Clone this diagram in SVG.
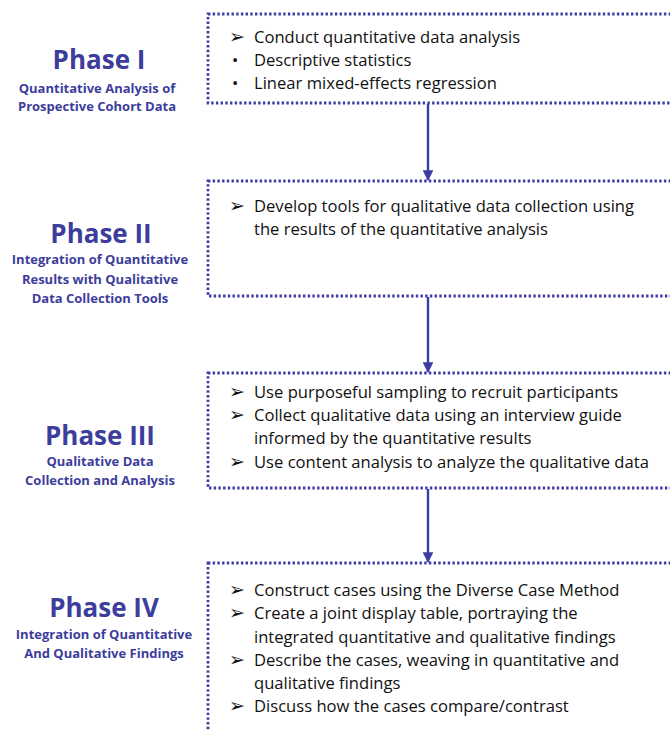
<svg xmlns="http://www.w3.org/2000/svg" width="670" height="731" viewBox="0 0 670 731">
<style>
.box{fill:none;stroke:#3c3ca6;stroke-width:2.8;stroke-dasharray:2.4 2.3}
.t{font-family:"Open Sans","Liberation Sans",sans-serif;font-size:16.6px;fill:#111}
.b{font-family:"DejaVu Sans",sans-serif;font-size:19px;fill:#111}
.ph{font-family:"Open Sans","Liberation Sans",sans-serif;font-weight:bold;font-size:26px;fill:#3d3d9c;text-anchor:middle}
.sub{font-family:"Open Sans","Liberation Sans",sans-serif;font-weight:bold;font-size:13px;fill:#3d3d9c;text-anchor:middle}
.conn{stroke:#3c3ca6;stroke-width:2.4;fill:none}
</style>
<defs>
<marker id="ah" viewBox="0 0 10 10" refX="9" refY="5" markerWidth="4.5" markerHeight="4.5" orient="auto" markerUnits="strokeWidth">
<path d="M0,0 L10,5 L0,10 z" fill="#3c3ca6"/>
</marker>
</defs>
<rect width="670" height="731" fill="#fff"/>
<g id="connectors">
<line class="conn" x1="428" y1="104" x2="428" y2="180" marker-end="url(#ah)"/>
<line class="conn" x1="428" y1="297" x2="428" y2="372" marker-end="url(#ah)"/>
<line class="conn" x1="428" y1="489" x2="428" y2="562" marker-end="url(#ah)"/>
</g>
<g id="phase1">
<rect class="box" x="208" y="14" width="480" height="89"/>
<text class="ph" x="99" y="69">Phase I</text>
<text class="sub" x="97" y="93">Quantitative Analysis of</text>
<text class="sub" x="97" y="111">Prospective Cohort Data</text>
<text class="b" x="229" y="43">➢</text>
<text class="t" x="254" y="43">Conduct quantitative data analysis</text>
<text class="t" x="232" y="66">•</text>
<text class="t" x="254" y="66">Descriptive statistics</text>
<text class="t" x="232" y="89">•</text>
<text class="t" x="254" y="89">Linear mixed-effects regression</text>
</g>
<g id="phase2">
<rect class="box" x="208" y="181" width="480" height="115"/>
<text class="ph" x="101" y="243">Phase II</text>
<text class="sub" x="100" y="264">Integration of Quantitative</text>
<text class="sub" x="100" y="284">Results with Qualitative</text>
<text class="sub" x="100" y="303">Data Collection Tools</text>
<text class="b" x="229" y="212">➢</text>
<text class="t" x="254" y="212">Develop tools for qualitative data collection using</text>
<text class="t" x="254" y="235">the results of the quantitative analysis</text>
</g>
<g id="phase3">
<rect class="box" x="208" y="373" width="480" height="115"/>
<text class="ph" x="100" y="445">Phase III</text>
<text class="sub" x="100" y="466">Qualitative Data</text>
<text class="sub" x="100" y="485">Collection and Analysis</text>
<text class="b" x="229" y="398">➢</text>
<text class="t" x="254" y="398">Use purposeful sampling to recruit participants</text>
<text class="b" x="229" y="421">➢</text>
<text class="t" x="254" y="421">Collect qualitative data using an interview guide</text>
<text class="t" x="254" y="444">informed by the quantitative results</text>
<text class="b" x="229" y="468">➢</text>
<text class="t" x="254" y="468">Use content analysis to analyze the qualitative data</text>
</g>
<g id="phase4">
<rect class="box" x="208" y="563" width="480" height="200"/>
<text class="ph" x="104" y="617">Phase IV</text>
<text class="sub" x="104" y="639">Integration of Quantitative</text>
<text class="sub" x="104" y="658">And Qualitative Findings</text>
<text class="b" x="229" y="596">➢</text>
<text class="t" x="254" y="596">Construct cases using the Diverse Case Method</text>
<text class="b" x="229" y="619">➢</text>
<text class="t" x="254" y="619">Create a joint display table, portraying the</text>
<text class="t" x="254" y="643">integrated quantitative and qualitative findings</text>
<text class="b" x="229" y="666">➢</text>
<text class="t" x="254" y="666">Describe the cases, weaving in quantitative and</text>
<text class="t" x="254" y="689">qualitative findings</text>
<text class="b" x="229" y="712">➢</text>
<text class="t" x="254" y="712">Discuss how the cases compare/contrast</text>
</g>
</svg>
